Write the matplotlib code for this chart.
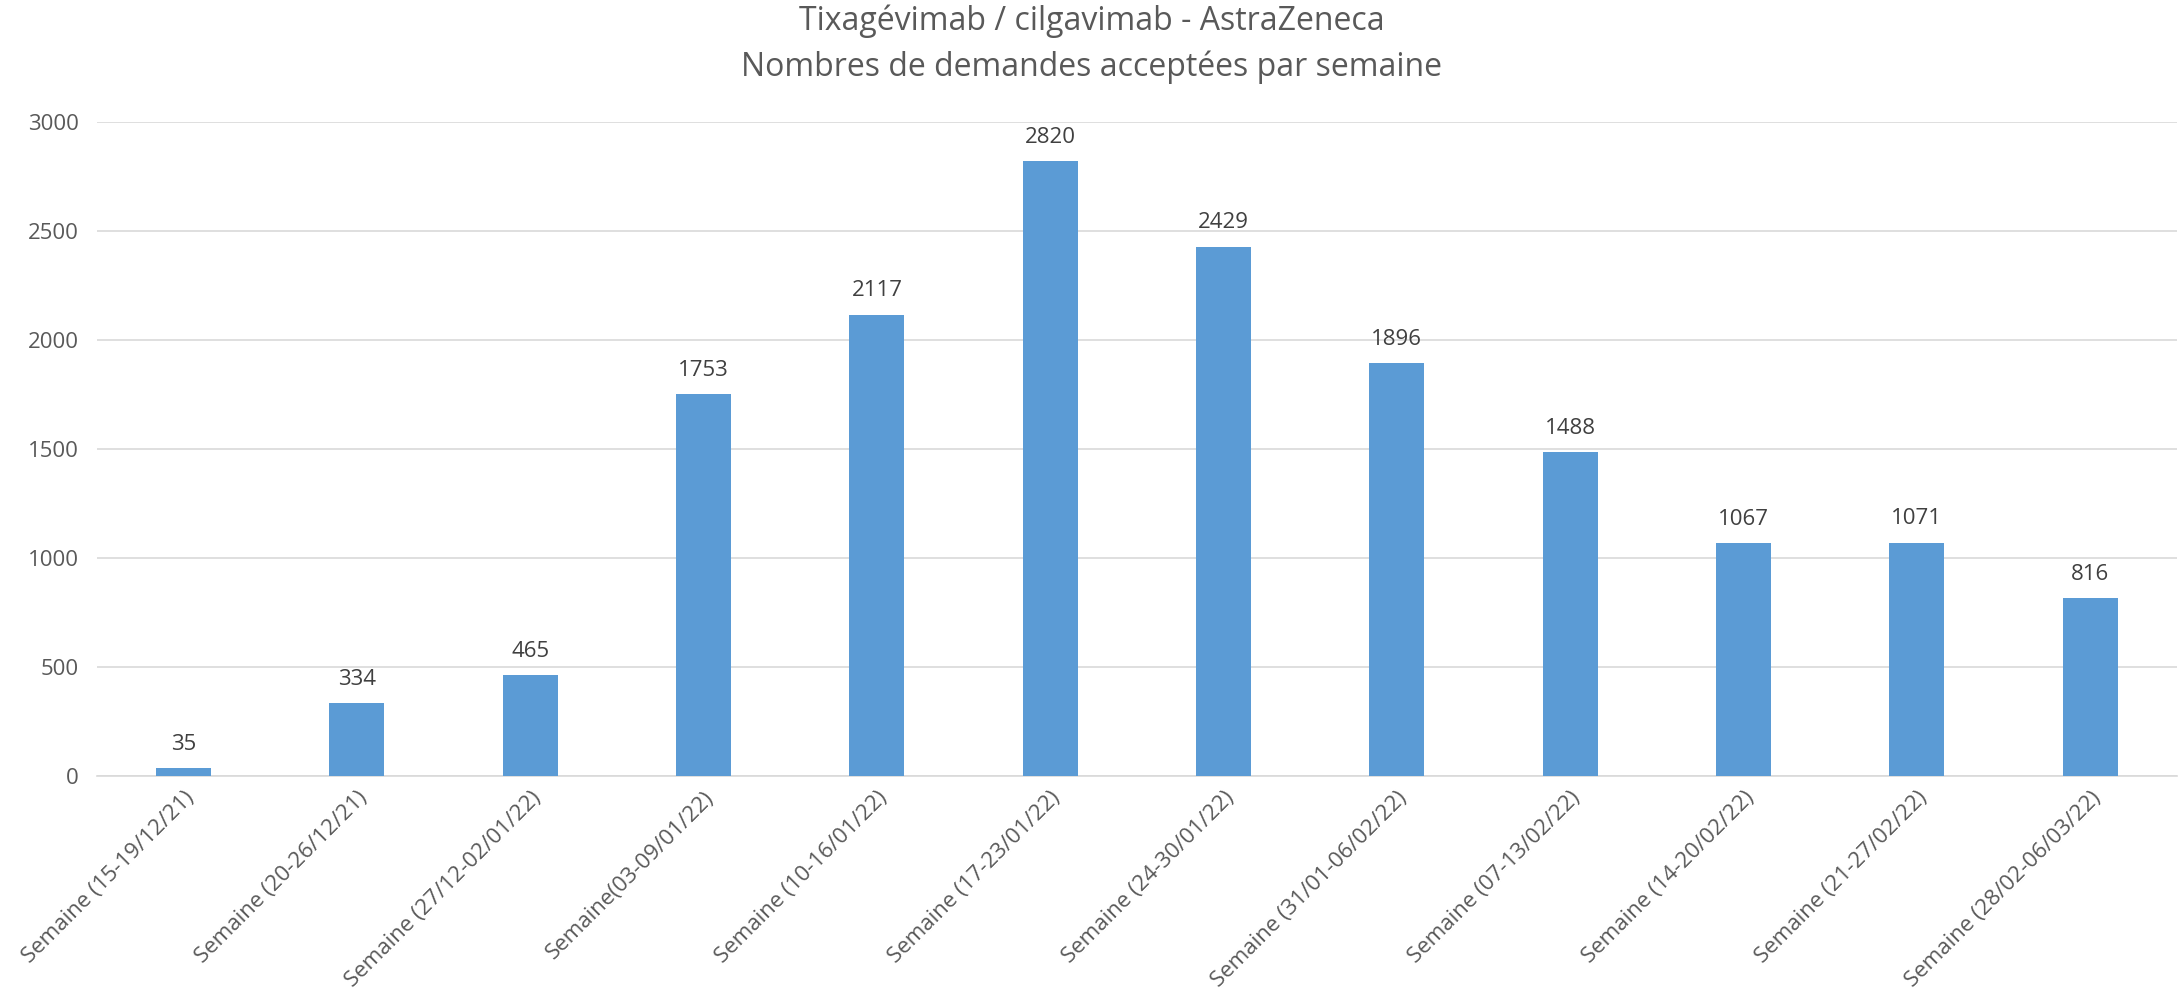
import numpy as np
import matplotlib
matplotlib.use("Agg")
import matplotlib.pyplot as plt

plt.rcParams['font.family'] = ['Open Sans', 'DejaVu Sans']

# --- Données ---
semaines = [
    "Semaine (15-19/12/21)", "Semaine (20-26/12/21)", "Semaine (27/12-02/01/22)",
    "Semaine(03-09/01/22)", "Semaine (10-16/01/22)", "Semaine (17-23/01/22)",
    "Semaine (24-30/01/22)", "Semaine (31/01-06/02/22)", "Semaine (07-13/02/22)",
    "Semaine (14-20/02/22)", "Semaine (21-27/02/22)", "Semaine (28/02-06/03/22)",
]
demandes = [35, 334, 465, 1753, 2117, 2820, 2429, 1896, 1488, 1067, 1071, 816]
y_ticks = [0, 500, 1000, 1500, 2000, 2500, 3000]

titre_1 = "Tixagévimab / cilgavimab - AstraZeneca"
titre_2 = "Nombres de demandes acceptées par semaine"

gris = "#595959"
bleu = "#5B9BD5"

fig = plt.figure(figsize=(21.83, 9.93), dpi=100)
ax = fig.add_axes([0.0444, 0.2185, 0.9528, 0.6586])

x = np.arange(len(semaines))
bars = ax.bar(x, demandes, width=0.317, color=bleu, zorder=3)

# étiquettes de valeurs
for xi, v in zip(x, demandes):
    ax.text(xi, v + 60, str(v), ha='center', va='bottom', fontsize=16, color="#404040")

ax.set_xlim(-0.5, len(semaines) - 0.5)
ax.set_ylim(0, 3000)
ax.set_yticks(y_ticks)
ax.set_yticklabels([str(t) for t in y_ticks], fontsize=16, color=gris)
ax.yaxis.grid(True, color="#D9D9D9", linewidth=1.2, zorder=0)
ax.tick_params(axis='y', length=0, pad=13)
ax.tick_params(axis='x', length=0, pad=8)

ax.set_xticks(x)
ax.set_xticklabels(semaines, rotation=45, ha='right', rotation_mode='anchor',
                   fontsize=16, color=gris)

for s in ['top', 'right', 'left']:
    ax.spines[s].set_visible(False)
ax.spines['bottom'].set_color("#D9D9D9")
ax.spines['bottom'].set_linewidth(1.2)

# titre sur deux lignes
fig.text(0.5, 1 - 21 / 993, titre_1, ha='center', va='center', fontsize=23, color=gris)
fig.text(0.5, 1 - 67 / 993, titre_2, ha='center', va='center', fontsize=23, color=gris)

fig.savefig("out.png", dpi=100, facecolor='white')
